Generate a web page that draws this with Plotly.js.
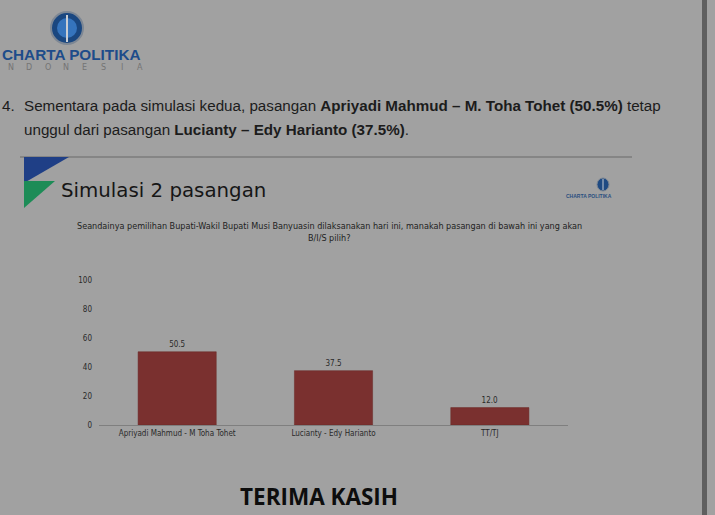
<!DOCTYPE html>
<html>
<head>
<meta charset="utf-8">
<script src="https://cdn.plot.ly/plotly-3.0.1.min.js"></script>
<style>
html,body{margin:0;padding:0;background:#a1a1a1;}
#chart{width:715px;height:515px;}
</style>
</head>
<body>
<div id="chart"></div>
<script>
// ---- data ----
const categories = ["Apriyadi Mahmud - M Toha Tohet", "Lucianty - Edy Harianto", "TT/TJ"];
const values = [50.5, 37.5, 12.0];
const yTicks = [0, 20, 40, 60, 80, 100];

// ---- layout helpers (pixel -> paper) ----
const W = 715, H = 515, L = 99, R = 147, T = 280, B = 90;
const pw = W - L - R, ph = H - T - B;
const fx = x => (x - L) / pw;
const fy = y => (H - B - y) / ph;

const bg = '#a1a1a1';
const dark = '#1c1c1c';

function ann(text, x, y, opts) {
  return Object.assign({
    text: text, xref: 'paper', yref: 'paper', x: fx(x), y: fy(y),
    xanchor: 'left', yanchor: 'middle', showarrow: false,
    font: {family: 'Open Sans, sans-serif', size: 13, color: dark}
  }, opts || {});
}

const annotations = [];
// top logo text
annotations.push(ann('<b>CHARTA POLITIKA</b>', 143, 55, {xanchor: 'right',
  font: {family: 'Liberation Sans, Arial, sans-serif', size: 15.3, color: '#1d4c8a'}}));
const indo = 'NDONESIA';
for (let i = 0; i < indo.length; i++) {
  annotations.push(ann(indo[i], 140 - (indo.length - 1 - i) * 18.5, 67, {xanchor: 'center',
    font: {family: 'DejaVu Sans, sans-serif', size: 8, color: '#747474'}}));
}
// paragraph
const pFont = {family: 'Liberation Sans Narrow, Arial Narrow, sans-serif', size: 15.2, color: dark};
annotations.push(ann('4.', 0, 106, {font: pFont}));
annotations.push(ann('Sementara pada simulasi kedua, pasangan <b>Apriyadi Mahmud \u2013 M. Toha Tohet (50.5%)</b> tetap', 22, 106, {font: pFont}));
annotations.push(ann('unggul dari pasangan <b>Lucianty \u2013 Edy Harianto (37.5%)</b>.', 22, 129, {font: pFont}));
// slide title
annotations.push(ann('Simulasi 2 pasangan', 59, 190, {font: {family: 'DejaVu Sans, sans-serif', size: 19.8, color: '#161616'}}));
// small logo
annotations.push(ann('<b>CHARTA POLITIKA</b>', 589, 196, {xanchor: 'center',
  font: {family: 'Liberation Sans, Arial, sans-serif', size: 5, color: '#2a4f80'}}));
// question
const qFont = {family: 'DejaVu Sans Condensed, DejaVu Sans, sans-serif', size: 9, color: '#222'};
annotations.push(ann('Seandainya pemilihan Bupati-Wakil Bupati Musi Banyuasin dilaksanakan hari ini, manakah pasangan di bawah ini yang akan', 329, 226, {xanchor: 'center', font: qFont}));
annotations.push(ann('B/I/S pilih?', 329, 238, {xanchor: 'center', font: qFont}));
// closing
annotations.push(ann('<b>TERIMA KASIH</b>', 319, 496, {xanchor: 'center',
  font: {family: 'Open Sans, sans-serif', size: 22.5, color: '#0d0d0d'}}));

const shapes = [
  // right dark bar
  {type: 'rect', xref: 'paper', yref: 'paper', x0: fx(702), x1: fx(707), y0: fy(0), y1: fy(515), fillcolor: '#5f5f5f', line: {width: 0}, layer: 'below'},
  // header rule
  {type: 'line', xref: 'paper', yref: 'paper', x0: fx(20), x1: fx(632), y0: fy(157), y1: fy(157), line: {color: '#7c7c7c', width: 1.5}},
  // blue triangle
  {type: 'path', xref: 'paper', yref: 'paper', path: `M ${fx(24)} ${fy(157)} L ${fx(69)} ${fy(157)} L ${fx(24)} ${fy(183)} Z`, fillcolor: '#1f3f86', line: {width: 0}},
  // green triangle
  {type: 'path', xref: 'paper', yref: 'paper', path: `M ${fx(24)} ${fy(181)} L ${fx(55)} ${fy(181)} L ${fx(24)} ${fy(208)} Z`, fillcolor: '#1d8c57', line: {width: 0}},
  // big logo circle
  {type: 'circle', xref: 'paper', yref: 'paper', x0: fx(51), x1: fx(83), y0: fy(44), y1: fy(12), fillcolor: '#1a4780', line: {color: '#7d8794', width: 2}},
  {type: 'circle', xref: 'paper', yref: 'paper', x0: fx(57), x1: fx(77), y0: fy(38), y1: fy(18), fillcolor: '#3574bd', line: {width: 0}},
  {type: 'line', xref: 'paper', yref: 'paper', x0: fx(67), x1: fx(67), y0: fy(15), y1: fy(42), line: {color: '#c9cdd3', width: 2}},
  // small logo circle
  {type: 'circle', xref: 'paper', yref: 'paper', x0: fx(597), x1: fx(609), y0: fy(191), y1: fy(178), fillcolor: '#1f4a82', line: {color: '#7d8794', width: 1}},
  {type: 'line', xref: 'paper', yref: 'paper', x0: fx(603), x1: fx(603), y0: fy(179), y1: fy(190), line: {color: '#c9cdd3', width: 1}}
];

const trace = {
  type: 'bar', x: categories, y: values,
  marker: {color: '#7a302f', line: {color: '#6a2827', width: 0.5}},
  text: values.map(v => v.toFixed(1)), textposition: 'outside', cliponaxis: false,
  textfont: {family: 'DejaVu Sans Condensed, DejaVu Sans, sans-serif', size: 8, color: '#2a2a2a'},
  hoverinfo: 'skip'
};

const layout = {
  width: W, height: H,
  margin: {l: L, r: R, t: T, b: B, pad: 0},
  paper_bgcolor: bg, plot_bgcolor: bg,
  showlegend: false, bargap: 0.5,
  xaxis: {showgrid: false, zeroline: false, showline: true, linecolor: '#7f7f7f', linewidth: 1,
    ticks: '', tickfont: {family: 'DejaVu Sans Condensed, DejaVu Sans, sans-serif', size: 8, color: '#2a2a2a'}, fixedrange: true},
  yaxis: {range: [0, 100], tickvals: yTicks, ticktext: yTicks.map(String), showgrid: false, zeroline: false, showline: false,
    ticks: '', ticklabelstandoff: 6, tickfont: {family: 'DejaVu Sans Condensed, DejaVu Sans, sans-serif', size: 8, color: '#2a2a2a'}, fixedrange: true},
  annotations: annotations, shapes: shapes
};

Plotly.newPlot('chart', [trace], layout, {displayModeBar: false, staticPlot: true});
</script>
</body>
</html>
